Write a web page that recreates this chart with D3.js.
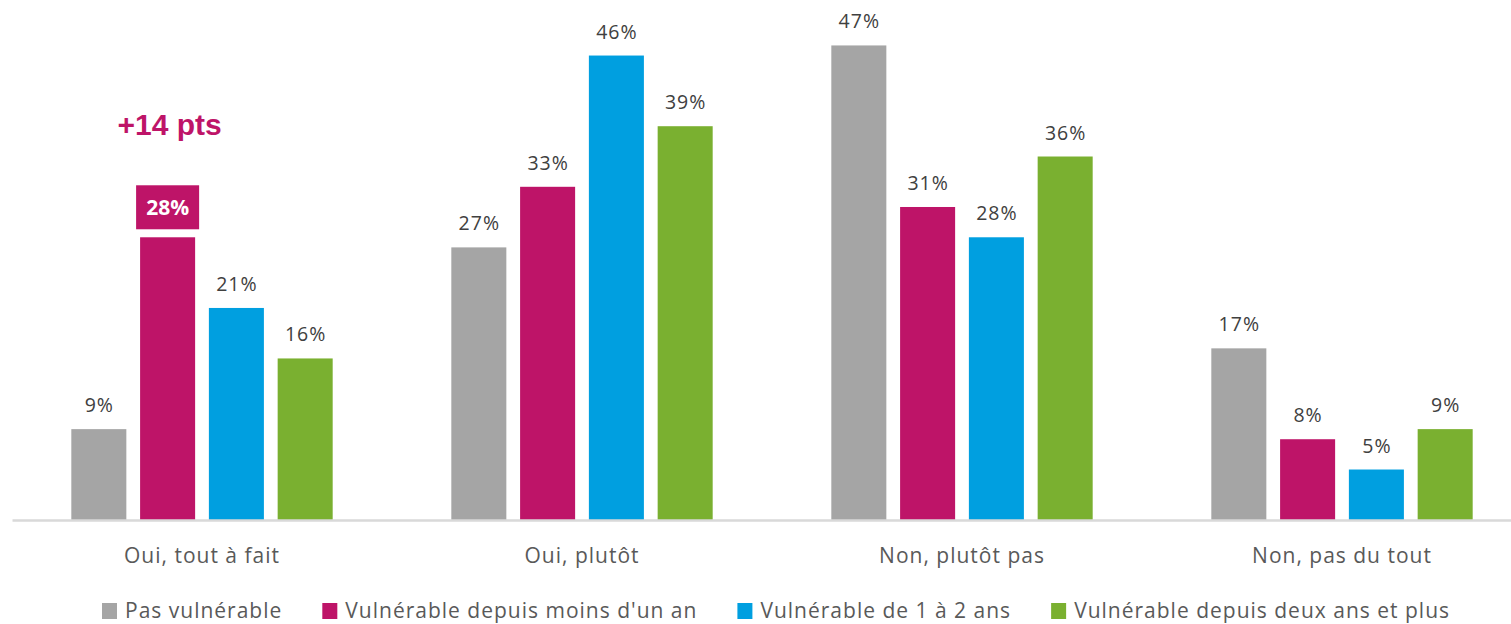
<!DOCTYPE html>
<html lang="fr">
<head>
<meta charset="UTF-8">
<title>Vulnérabilité</title>
<script src="https://d3js.org/d3.v7.min.js"></script>
<style>
    html, body { margin: 0; padding: 0; background: #fff; overflow: hidden; }
    svg text { font-family: 'Open Sans', sans-serif; }
</style>
</head>
<body>
<div id="chart"></div>
<script>
var categories = ["Oui, tout à fait", "Oui, plutôt", "Non, plutôt pas", "Non, pas du tout"];
var seriesNames = ["Pas vulnérable", "Vulnérable depuis moins d'un an", "Vulnérable de 1 à 2 ans", "Vulnérable depuis deux ans et plus"];
var pasVulnerable = [9, 27, 47, 17];
var moinsUnAn = [28, 33, 31, 8];
var unADeuxAns = [21, 46, 28, 5];
var deuxAnsEtPlus = [16, 39, 36, 9];
var colors = ["#a5a5a5", "#be1468", "#009fe0", "#7ab030"];
var highlight = {cat: "Oui, tout à fait", serie: 1, note: "+14 pts"};

var seriesValues = [pasVulnerable, moinsUnAn, unADeuxAns, deuxAnsEtPlus];

var width = 1511, height = 624;
var baseline = 520;

var svg = d3.select('#chart')
    .append('svg')
    .attr('width', width)
    .attr('height', height);

var x0 = d3.scaleBand()
    .domain(categories)
    .range([12, 1532])
    .paddingInner(0.276)
    .paddingOuter(0.138);

var x1 = d3.scaleBand()
    .domain(d3.range(seriesNames.length))
    .range([0, x0.bandwidth()])
    .paddingInner(0.2)
    .paddingOuter(0.1);

var y = d3.scaleLinear()
    .domain([0, 51.5])
    .range([baseline, 0]);

// rows for every bar
var rows = [];
categories.forEach(function(c, i) {
    seriesValues.forEach(function(vals, s) {
        rows.push({cat: c, serie: s, value: vals[i]});
    });
});

svg.selectAll('.bar')
    .data(rows)
    .enter()
    .append('rect')
    .attr('class', 'bar')
    .attr('x', function(d) { return x0(d.cat) + x1(d.serie); })
    .attr('y', function(d) { return y(d.value); })
    .attr('width', x1.bandwidth())
    .attr('height', function(d) { return baseline - y(d.value); })
    .attr('fill', function(d) { return colors[d.serie]; });

// value labels
svg.selectAll('.val')
    .data(rows.filter(function(d) { return !(d.cat == highlight.cat && d.serie == highlight.serie); }))
    .enter()
    .append('text')
    .attr('class', 'val')
    .attr('x', function(d) { return x0(d.cat) + x1(d.serie) + x1.bandwidth() / 2 + 0.5; })
    .attr('y', function(d) { return y(d.value) - 17; })
    .attr('text-anchor', 'middle')
    .style('font-size', '19.5px')
    .style('letter-spacing', '1px')
    .style('fill', '#404040')
    .text(function(d) { return d.value + '%'; });

// highlighted label
var h = rows.filter(function(d) { return d.cat == highlight.cat && d.serie == highlight.serie; })[0];
var hx = x0(h.cat) + x1(h.serie) + x1.bandwidth() / 2;
var hy = y(h.value);
svg.append('rect')
    .attr('x', x0(h.cat) + x1(h.serie) - 4)
    .attr('y', hy - 52)
    .attr('width', x1.bandwidth() + 8)
    .attr('height', 44)
    .attr('fill', colors[h.serie]);
svg.append('text')
    .attr('x', hx)
    .attr('y', hy - 22)
    .attr('text-anchor', 'middle')
    .style('font-size', '21px')
    .style('font-weight', 'bold')
    .style('fill', '#fff')
    .text(h.value + '%');
svg.append('text')
    .attr('x', hx + 2)
    .attr('y', hy - 102)
    .attr('text-anchor', 'middle')
    .style('font-family', "'Liberation Sans', Arial, sans-serif")
    .style('font-size', '30px')
    .style('font-weight', 'bold')
    .style('fill', colors[h.serie])
    .text(highlight.note);

// x axis
var xAxis = svg.append('g')
    .attr('transform', 'translate(0,' + baseline + ')')
    .call(d3.axisBottom(x0).tickSize(0).tickPadding(28));
xAxis.select('.domain')
    .attr('stroke', '#d9d9d9')
    .attr('stroke-width', 2.5);
xAxis.selectAll('text')
    .style('font-family', "'Open Sans', sans-serif")
    .style('font-size', '21px')
    .style('letter-spacing', '1px')
    .style('fill', '#595959');

// legend
var legend = svg.append('g').attr('class', 'legend');
var lx = 102;
seriesNames.forEach(function(name, i) {
    var item = legend.append('g').attr('transform', 'translate(' + lx + ',0)');
    item.append('rect')
        .attr('x', 0)
        .attr('y', 603)
        .attr('width', 15)
        .attr('height', 16)
        .attr('fill', colors[i]);
    var t = item.append('text')
        .attr('x', 23)
        .attr('y', 618)
        .style('font-size', '21px')
        .style('letter-spacing', '1px')
        .style('fill', '#595959')
        .text(name);
    lx += 23 + t.node().getComputedTextLength() + 40;
});
</script>
</body>
</html>
